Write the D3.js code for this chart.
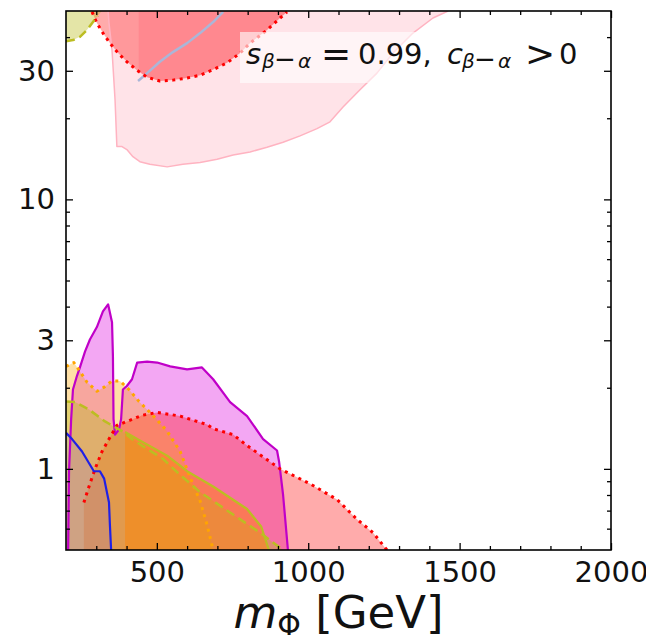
<!DOCTYPE html>
<html>
<head>
<meta charset="utf-8">
<script src="https://cdn.jsdelivr.net/npm/d3@7"></script>
<style>
  body { margin: 0; background: #fff; }
  svg { display: block; font-family: "DejaVu Sans", sans-serif; }
</style>
</head>
<body>
<div id="chart"></div>
<script>
// plot frame in page pixels
const margin = { top: 11, right: 35, bottom: 88, left: 66 };
const W = 646, H = 638;
const width = W - margin.left - margin.right;
const height = H - margin.top - margin.bottom;

// ---- data: [m_Phi (GeV), tan(beta)] ----
// upper regions
const pinkTop = [[339,50],[342,45.1],[352,35.8],[362,23.4],[368,15.7],[385,15.7],[401,15.3],[421,14.4],
  [444,13.8],[477,13.5],[534,13.2],[586,13.5],[643,13.7],[699,14.1],[752,14.6],[808,15.0],[864,15.6],
  [917,16.3],[973,17.2],[1029,18.3],[1072,19.4],[1115,22.0],[1171,25.5],[1227,29.4],[1280,34.9],
  [1346,41.4],[1412,47.1],[1462,50]];
const redTop = [[286,50],[286,49.6],[302,45.1],[322,41.4],[345,38.0],[372,34.9],[401,32.4],[435,30.1],
  [468,28.4],[510,27.5],[553,27.7],[600,28.2],[643,28.9],[686,30.3],[732,32.1],[775,34.9],[808,38.0],
  [864,42.5],[907,47.1],[930,49.6],[930,50]];
const redTopInner = [[440,50],[440,29.9],[468,28.4],[510,27.5],[553,27.7],[600,28.2],[643,28.9],
  [686,30.3],[732,32.1],[775,34.9],[808,38.0],[864,42.5],[907,47.1],[930,49.6],[930,50]];
const greyLine = [[438,27.5],[468,29.4],[510,32.4],[553,35.2],[600,38.0],[643,41.4],[686,45.5],[719,49.6]];
const oliveTop = [[200,50],[200,38.6],[223,39.0],[246,40.1],[269,42.5],[289,45.5],[305,48],[318,50]];

// lower regions
const magenta = [[207,0.5],[210,0.98],[217,1.53],[223,1.97],[236,2.21],[246,2.38],[263,2.73],[279,3.02],
  [302,3.36],[322,3.84],[339,4.08],[352,3.50],[355,2.62],[357,1.53],[362,1.34],[375,1.40],[382,1.53],
  [388,1.97],[401,2.03],[418,2.15],[435,2.48],[468,2.50],[501,2.48],[544,2.40],[600,2.34],[649,2.38],
  [686,2.15],[742,1.77],[798,1.57],[851,1.29],[897,1.17],[904,1.06],[917,0.80],[933,0.5]];
const redLow = [[259,0.5],[259,0.75],[276,0.86],[296,1.0],[319,1.16],[342,1.29],[368,1.45],[408,1.51],
  [451,1.58],[501,1.62],[577,1.57],[666,1.46],[686,1.41],[752,1.34],[798,1.22],[907,1.0],[1006,0.88],
  [1095,0.77],[1161,0.65],[1214,0.58],[1260,0.5]];
const orangeLow = [[200,0.5],[200,2.40],[226,2.48],[246,2.30],[269,2.10],[302,1.94],[326,2.01],[352,2.12],
  [378,2.12],[408,1.97],[441,1.78],[487,1.58],[534,1.38],[577,1.16],[610,0.93],[643,0.76],[666,0.62],[686,0.5]];
const oliveLow = [[200,0.5],[200,1.78],[230,1.77],[276,1.66],[329,1.50],[385,1.38],[418,1.29],[451,1.22],
  [520,1.09],[577,0.95],[643,0.82],[709,0.73],[775,0.65],[841,0.58],[897,0.52],[917,0.5]];
const oliveSolid = [[395,0.5],[395,1.37],[435,1.29],[534,1.12],[600,0.98],[686,0.86],[798,0.71],[845,0.61],[870,0.5]];
const blueLow = [[200,0.5],[200,1.36],[220,1.29],[253,1.16],[292,0.98],[312,0.98],[326,0.92],[342,0.75],
  [345,0.62],[349,0.5]];

// ticks
const xMajor = [500, 1000, 1500, 2000];
const xMinor = d3.range(300, 2000, 100).filter(v => v % 500 !== 0);
const yMajor = [1, 3, 10, 30];
const yMinor = [0.6, 0.7, 0.8, 0.9, 2, 4, 5, 6, 7, 8, 9, 20, 40];

const svg = d3.select("#chart").append("svg")
  .attr("width", W).attr("height", H);

const g = svg.append("g").attr("transform", `translate(${margin.left},${margin.top})`);

const x = d3.scaleLinear().domain([200, 2000]).range([0, width]);
const y = d3.scaleLog().domain([0.5, 50]).range([height, 0]);

g.append("clipPath").attr("id", "clip")
  .append("rect").attr("width", width).attr("height", height);

const plot = g.append("g").attr("clip-path", "url(#clip)");

const line = d3.line().x(d => x(d[0])).y(d => y(d[1]));
const closed = pts => line(pts) + "Z";

function fill(pts, color) {
  plot.append("path").attr("d", closed(pts)).attr("fill", color).attr("stroke", "none");
}
function edge(pts, color, w, dash) {
  plot.append("path").attr("d", line(pts)).attr("fill", "none")
    .attr("stroke", color).attr("stroke-width", w)
    .attr("stroke-dasharray", dash || null)
    .attr("stroke-linejoin", "round");
}

// fills, upper part
fill(pinkTop, "rgba(255,192,203,0.45)");
fill(redTop, "rgba(255,0,0,0.33)");
fill(redTopInner, "rgba(255,0,40,0.10)");
fill(oliveTop, "rgba(188,189,34,0.4)");

// fills, lower part
fill(magenta, "rgba(238,130,238,0.7)");
fill(redLow, "rgba(255,0,0,0.33)");
fill(orangeLow, "rgba(255,165,0,0.35)");
fill(oliveLow, "rgba(188,189,34,0.4)");
fill(oliveSolid, "rgba(255,130,0,0.45)");
fill(blueLow, "rgba(147,112,219,0.2)");

// boundaries
edge(pinkTop, "#ffb3c1", 1.5);
edge(greyLine, "#aab6d8", 2.5);
edge(redTop.slice(1, -1), "#ff0000", 3, "3,4.5");
edge(oliveTop.slice(1, -1), "#bcbd22", 2.5, "9,5");
edge(magenta, "#c000c8", 2.2);
edge(redLow.slice(1), "#ff0000", 3, "3,4.5");
edge(orangeLow.slice(1), "#ffa500", 3, "3,4.5");
edge(oliveSolid.slice(1), "#bcbd22", 2.2);
edge(oliveLow.slice(1), "#bcbd22", 2.5, "9,5");
edge(blueLow.slice(1), "#2020e6", 2.2);

// axes (ticks point inward)
function ticks(axisFn, vals, size, labels, tr) {
  const a = axisFn.tickValues(vals).tickSize(-size).tickPadding(11);
  if (!labels) a.tickFormat("");
  else a.tickFormat(d3.format("d"));
  const sel = g.append("g").attr("transform", tr || null).call(a);
  sel.select(".domain").remove();
  sel.selectAll("line").attr("stroke", "#000").attr("stroke-width", 1.3);
  sel.selectAll("text").attr("font-size", 29).attr("fill", "#111")
    .attr("font-family", "DejaVu Sans, sans-serif");
  return sel;
}
ticks(d3.axisBottom(x), xMajor, 7, true, `translate(0,${height})`);
ticks(d3.axisBottom(x), xMinor, 4, false, `translate(0,${height})`);
ticks(d3.axisTop(x), xMajor, 7, false);
ticks(d3.axisTop(x), xMinor, 4, false);
ticks(d3.axisLeft(y), yMajor, 7, true);
ticks(d3.axisLeft(y), yMinor, 4, false);
ticks(d3.axisRight(y), yMajor, 7, false, `translate(${width},0)`);
ticks(d3.axisRight(y), yMinor, 4, false, `translate(${width},0)`);

g.append("rect").attr("width", width).attr("height", height)
  .attr("fill", "none").attr("stroke", "#000").attr("stroke-width", 1.6);

// annotation box
g.append("rect").attr("x", 174).attr("y", 21).attr("width", 348).attr("height", 51)
  .attr("fill", "#fff").attr("fill-opacity", 0.6);

const note = g.append("text").attr("y", 53).attr("font-size", 29).attr("fill", "#111");
function subscript(x0) {
  note.append("tspan").attr("x", x0).attr("dy", 4).attr("font-size", 20).attr("font-style", "italic").text("\u03b2");
  note.append("tspan").attr("x", x0 + 12).attr("font-size", 26).text("\u2212");
  note.append("tspan").attr("x", x0 + 36).attr("font-size", 20).attr("font-style", "italic").text("\u03b1");
}
note.append("tspan").attr("x", 180).attr("font-style", "italic").text("s");
subscript(196);
note.append("tspan").attr("x", 255).attr("dy", -2).attr("font-size", 36).text("=");
note.append("tspan").attr("x", 292).attr("dy", -2).text("0.99,");
note.append("tspan").attr("x", 381).attr("font-style", "italic").text("c");
subscript(396);
note.append("tspan").attr("x", 459).attr("dy", -2).attr("font-size", 36).text(">");
note.append("tspan").attr("x", 493).attr("dy", -2).text("0");

// x label
const xl = svg.append("text").attr("x", margin.left + width / 2).attr("y", 628)
  .attr("text-anchor", "middle").attr("font-size", 45).attr("fill", "#111");
xl.append("tspan").attr("font-style", "italic").text("m");
xl.append("tspan").attr("font-size", 30).attr("dy", 7).text("\u03a6");
xl.append("tspan").attr("dy", -7).text(" [GeV]");
</script>
</body>
</html>
